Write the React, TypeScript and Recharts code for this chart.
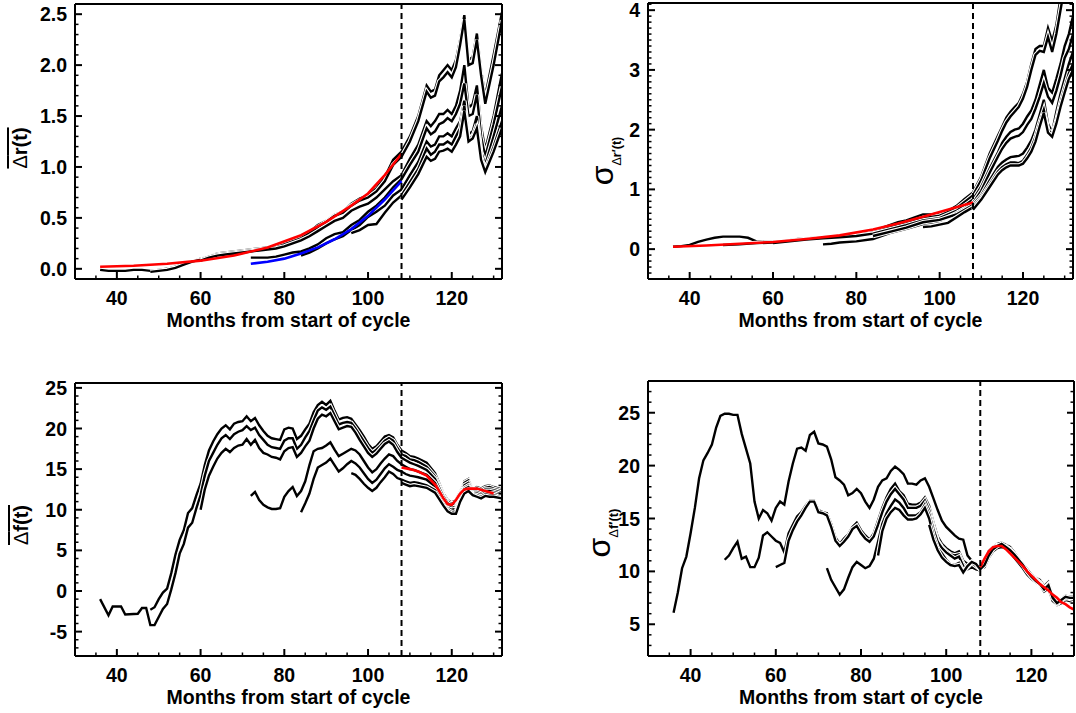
import React from 'react';
import { LineChart, Line, XAxis, YAxis, ReferenceLine } from 'recharts';

type Pt = [number, number];

const FONT = "'Liberation Sans', Arial, Helvetica, sans-serif";

// ---------- top left: mean of Δr(t), one curve per start month ----------
const tlS36: Pt[] = [[36,-0.01],[38,-0.02],[40,-0.02],[42,-0.02],[44,-0.01],[46,-0.01],[48,-0.02],[50,-0.01],[52,0.0],[54,0.02],[56,0.05],[58,0.07],[60,0.1],[62,0.12],[64,0.15],[66,0.16],[68,0.17],[70,0.18],[72,0.19],[74,0.2],[76,0.21],[78,0.22],[80,0.25],[82,0.28],[84,0.31],[86,0.36],[88,0.43],[90,0.47],[92,0.53],[94,0.56],[96,0.64],[98,0.69],[100,0.72],[102,0.79],[104,0.9],[106,1.07],[108,1.15],[110,1.3],[112,1.5],[114,1.8],[115,1.74],[116,1.76],[117,1.9],[118,1.95],[119,2.0],[120,1.95],[121,2.05],[122,2.25],[123,2.49],[124,2.05],[125,2.08],[126,2.31],[127,1.95],[128,1.7],[130,2.1],[132,2.52]];
const tlS48: Pt[] = [[48,-0.03],[50,-0.02],[52,-0.01],[54,0.01],[56,0.04],[58,0.07],[60,0.09],[62,0.12],[64,0.14],[66,0.15],[68,0.16],[70,0.17],[72,0.18],[74,0.19],[76,0.2],[78,0.21],[80,0.24],[82,0.27],[84,0.3],[86,0.35],[88,0.41],[90,0.46],[92,0.52],[94,0.55],[96,0.62],[98,0.67],[100,0.7],[102,0.76],[104,0.86],[106,1.02],[108,1.1],[110,1.25],[112,1.45],[114,1.74],[115,1.68],[116,1.7],[117,1.84],[118,1.88],[119,1.93],[120,1.88],[121,1.98],[122,2.2],[123,2.45],[124,2.0],[125,2.02],[126,2.25],[127,1.9],[128,1.62],[130,2.0],[132,2.44]];
const tlS60: Pt[] = [[60,0.08],[62,0.11],[64,0.13],[66,0.14],[68,0.15],[70,0.16],[72,0.17],[74,0.18],[76,0.19],[78,0.2],[80,0.22],[82,0.25],[84,0.28],[86,0.32],[88,0.37],[90,0.42],[92,0.47],[94,0.5],[96,0.57],[98,0.61],[100,0.64],[102,0.7],[104,0.78],[106,0.86],[108,0.92],[110,1.08],[112,1.22],[114,1.45],[115,1.4],[116,1.45],[117,1.52],[118,1.52],[119,1.56],[120,1.52],[121,1.6],[122,1.75],[123,2.0],[124,1.58],[125,1.62],[126,1.8],[127,1.4],[128,1.17],[130,1.5],[132,1.92]];
const tlS72: Pt[] = [[72,0.11],[74,0.11],[76,0.11],[78,0.12],[80,0.14],[82,0.16],[84,0.17],[86,0.2],[88,0.24],[90,0.3],[92,0.34],[94,0.36],[96,0.43],[98,0.48],[100,0.56],[102,0.62],[104,0.7],[106,0.8],[108,0.88],[110,1.02],[112,1.15],[114,1.38],[115,1.32],[116,1.35],[117,1.42],[118,1.44],[119,1.48],[120,1.45],[121,1.52],[122,1.62],[123,1.82],[124,1.5],[125,1.52],[126,1.71],[127,1.3],[128,1.1],[130,1.42],[132,1.79]];
const tlS84: Pt[] = [[84,0.13],[86,0.16],[88,0.2],[90,0.25],[92,0.29],[94,0.32],[96,0.38],[98,0.43],[100,0.51],[102,0.56],[104,0.62],[106,0.72],[108,0.78],[110,0.92],[112,1.05],[114,1.25],[115,1.2],[116,1.22],[117,1.3],[118,1.3],[119,1.33],[120,1.3],[121,1.38],[122,1.45],[123,1.65],[124,1.32],[125,1.35],[126,1.5],[127,1.15],[128,1.02],[130,1.3],[132,1.6]];
const tlS96: Pt[] = [[96,0.35],[98,0.38],[100,0.43],[102,0.44],[104,0.55],[106,0.65],[108,0.72],[110,0.85],[112,0.98],[114,1.18],[115,1.12],[116,1.15],[117,1.22],[118,1.22],[119,1.25],[120,1.22],[121,1.3],[122,1.38],[123,1.6],[124,1.27],[125,1.3],[126,1.42],[127,1.1],[128,0.97],[130,1.2],[132,1.45]];
const tlS108: Pt[] = [[108,0.68],[110,0.8],[112,0.93],[114,1.1],[115,1.06],[116,1.08],[117,1.15],[118,1.16],[119,1.18],[120,1.15],[121,1.22],[122,1.3],[123,1.55],[124,1.25],[125,1.28],[126,1.38],[127,1.07],[128,0.95],[130,1.15],[132,1.38]];
const tlRed: Pt[] = [[36,0.02],[44,0.03],[52,0.05],[60,0.08],[68,0.13],[76,0.21],[84,0.33],[90,0.46],[96,0.62],[100,0.74],[104,0.92],[108,1.13]];
const tlBlue: Pt[] = [[72,0.05],[76,0.07],[80,0.1],[84,0.15],[88,0.21],[92,0.29],[96,0.39],[100,0.52],[104,0.68],[108,0.86]];

// ---------- top right: sigma of Δr'(t) ----------
const trS36: Pt[] = [[36,0.04],[38,0.05],[40,0.07],[42,0.12],[44,0.16],[46,0.19],[48,0.21],[50,0.21],[52,0.21],[54,0.19],[56,0.13],[58,0.12],[60,0.12],[62,0.13],[64,0.15],[66,0.17],[68,0.18],[70,0.19],[72,0.2],[74,0.21],[76,0.22],[78,0.23],[80,0.25],[82,0.28],[84,0.31],[86,0.35],[88,0.4],[90,0.45],[92,0.48],[94,0.53],[96,0.58],[98,0.58],[100,0.6],[102,0.64],[104,0.72],[106,0.84],[108,0.95],[110,1.22],[112,1.6],[114,1.9],[115,2.05],[116,2.2],[117,2.3],[118,2.38],[119,2.45],[120,2.6],[121,2.8],[122,3.1],[123,3.35],[124,3.4],[125,3.4],[126,3.7],[127,3.48],[128,3.75],[129,4.2],[130,4.6]];
const trS48: Pt[] = [[48,0.07],[52,0.08],[56,0.1],[60,0.11],[64,0.14],[68,0.17],[72,0.19],[76,0.21],[80,0.23],[84,0.28],[88,0.36],[92,0.43],[96,0.52],[100,0.56],[104,0.68],[106,0.79],[108,0.9],[110,1.16],[112,1.52],[114,1.82],[115,1.98],[116,2.12],[117,2.22],[118,2.3],[119,2.38],[120,2.52],[121,2.72],[122,3.0],[123,3.25],[124,3.32],[125,3.3],[126,3.55],[127,3.3],[128,3.6],[129,4.0],[130,4.4]];
const trS60: Pt[] = [[60,0.1],[64,0.13],[68,0.16],[72,0.18],[76,0.2],[80,0.22],[84,0.26],[88,0.33],[92,0.4],[96,0.48],[100,0.52],[104,0.64],[106,0.73],[108,0.83],[110,1.05],[112,1.35],[114,1.62],[115,1.78],[116,1.88],[117,1.96],[118,2.0],[119,2.02],[120,2.1],[121,2.22],[122,2.32],[123,2.5],[124,2.75],[125,3.0],[126,2.7],[127,2.62],[128,2.85],[129,3.1],[130,3.4],[131,3.6],[132,3.9]];
const trS72: Pt[] = [[72,0.08],[74,0.09],[76,0.11],[80,0.13],[84,0.17],[88,0.27],[92,0.34],[96,0.42],[100,0.47],[104,0.6],[106,0.68],[108,0.77],[110,0.98],[112,1.28],[114,1.55],[115,1.68],[116,1.78],[117,1.85],[118,1.88],[119,1.9],[120,1.96],[121,2.08],[122,2.18],[123,2.35],[124,2.55],[125,2.78],[126,2.55],[127,2.45],[128,2.65],[129,2.9],[130,3.2],[131,3.35],[132,3.6]];
const trS84: Pt[] = [[84,0.22],[88,0.29],[92,0.36],[96,0.45],[100,0.49],[104,0.58],[106,0.66],[108,0.74],[110,0.9],[112,1.15],[114,1.38],[115,1.45],[116,1.5],[117,1.54],[118,1.55],[119,1.56],[120,1.6],[121,1.7],[122,1.82],[123,2.0],[124,2.25],[125,2.5],[126,2.1],[127,1.96],[128,2.3],[129,2.6],[130,2.85],[131,3.1],[132,3.3]];
const trS96: Pt[] = [[96,0.37],[98,0.38],[100,0.41],[102,0.44],[104,0.53],[106,0.62],[108,0.7],[110,0.86],[112,1.08],[114,1.3],[115,1.37],[116,1.42],[117,1.45],[118,1.45],[119,1.44],[120,1.48],[121,1.58],[122,1.7],[123,1.88],[124,2.12],[125,2.33],[126,2.0],[127,1.92],[128,2.15],[129,2.45],[130,2.7],[131,2.94],[132,3.1]];
const trS108: Pt[] = [[108,0.66],[110,0.83],[112,1.04],[114,1.25],[115,1.32],[116,1.37],[117,1.4],[118,1.4],[119,1.4],[120,1.43],[121,1.52],[122,1.63],[123,1.8],[124,2.05],[125,2.28],[126,1.95],[127,1.88],[128,2.1],[129,2.38],[130,2.62],[131,2.85],[132,3.0]];
const trRed: Pt[] = [[36,0.04],[44,0.06],[52,0.09],[60,0.12],[68,0.17],[76,0.23],[84,0.33],[90,0.43],[96,0.54],[100,0.62],[104,0.7],[108,0.78]];

// ---------- bottom left: mean of Δf(t) ----------
const blS48: Pt[] = [[48,-2.3],[49,-2.0],[50,-1.0],[51,-0.2],[52,0.3],[53,2.2],[54,4.5],[55,6.3],[56,7.5],[57,9.6],[58,10.2],[59,11.8],[60,13.2],[61,15.5],[62,17.3],[63,18.4],[64,19.3],[65,20.0],[66,20.4],[67,19.9],[68,20.6],[69,20.8],[70,20.9],[71,21.5],[72,20.9],[73,21.3],[74,20.4],[75,19.7],[76,19.1],[77,18.8],[78,18.7],[79,18.6],[80,19.9],[81,20.1],[82,20.0],[83,18.7],[84,19.1],[85,19.9],[86,20.6],[87,22.0],[88,22.9],[89,23.3],[90,22.9],[91,23.4],[92,22.2],[93,21.1],[94,21.3],[95,21.4],[96,21.2],[97,20.5],[98,19.8],[99,19.0],[100,18.1],[101,17.5],[102,17.8],[103,18.4],[104,19.0],[105,19.2],[106,18.9],[107,18.0],[108,17.3],[109,17.0],[110,16.6],[111,16.5],[112,16.3],[114,15.8],[116,14.5],[118,12.0],[119,11.2],[120,10.9],[121,11.2],[122,12.2],[123,13.5],[124,13.8],[125,12.5],[126,12.8],[127,12.6],[128,12.9],[129,13.0],[130,12.8],[132,12.5]];
const blS36: Pt[] = [[36,-1.0],[38,-3.0],[39,-1.9],[41,-1.9],[42,-2.9],[45,-2.8],[46,-2.1],[47,-2.1],[48,-4.2],[49,-4.2],[50,-3.2],[51,-2.2],[52,-1.6],[53,0.2],[54,2.2],[55,4.6],[56,5.8],[57,7.8],[58,8.4],[59,10.2],[60,11.8],[61,14.2],[62,16.0],[63,17.0],[64,18.0],[65,18.8],[66,19.2],[67,18.7],[68,19.3],[69,19.6],[70,19.8],[71,20.3],[72,19.8],[73,20.1],[74,19.2],[75,18.6],[76,18.0],[77,17.7],[78,17.6],[79,17.5],[80,18.5],[81,18.8],[82,18.8],[83,17.5],[84,18.0],[85,18.9],[86,19.7],[87,21.0],[88,22.2],[89,22.6],[90,22.3],[91,22.7],[92,21.6],[93,20.5],[94,20.7],[95,20.8],[96,20.7],[97,20.0],[98,19.2],[99,18.4],[100,17.6],[101,17.0],[102,17.4],[103,17.9],[104,18.5],[105,18.8],[106,18.5],[107,17.6],[108,16.8],[109,16.6],[110,16.2],[111,16.1],[112,15.9],[114,15.3],[116,14.1],[118,11.8],[119,11.0],[120,10.7],[121,11.0],[122,12.0],[123,13.3],[124,13.6],[125,12.4],[126,12.6],[127,12.4],[128,12.7],[129,12.8],[130,12.6],[132,12.3]];
const blS60: Pt[] = [[60,10.0],[61,12.5],[62,14.2],[63,15.3],[64,16.3],[65,17.0],[66,17.5],[67,17.1],[68,17.6],[69,17.9],[70,18.0],[71,18.7],[72,18.0],[73,18.6],[74,17.6],[75,17.0],[76,16.8],[77,16.5],[78,16.4],[79,16.2],[80,17.2],[81,17.6],[82,17.7],[83,16.5],[84,17.0],[85,17.8],[86,18.5],[87,20.0],[88,21.2],[89,21.7],[90,21.5],[91,21.9],[92,20.9],[93,19.9],[94,20.1],[95,20.3],[96,20.2],[97,19.5],[98,18.6],[99,17.8],[100,17.0],[101,16.5],[102,16.9],[103,17.5],[104,18.1],[105,18.4],[106,18.0],[107,17.1],[108,16.4],[109,16.1],[110,15.8],[111,15.6],[112,15.4],[114,14.9],[116,13.8],[118,11.6],[119,10.8],[120,10.5],[121,10.7],[122,11.8],[123,13.0],[124,13.3],[125,12.3],[126,12.4],[127,12.2],[128,12.5],[129,12.5],[130,12.4],[132,12.1]];
const blS72: Pt[] = [[72,11.7],[73,12.2],[74,11.2],[75,10.6],[76,10.3],[77,10.1],[78,10.1],[79,10.2],[80,11.6],[81,12.3],[82,12.8],[83,11.7],[84,12.3],[85,13.5],[86,15.5],[87,17.2],[88,17.5],[89,17.6],[90,17.9],[91,18.3],[92,17.4],[93,16.6],[94,16.9],[95,17.2],[96,17.5],[97,17.3],[98,16.8],[99,16.0],[100,15.2],[101,14.6],[102,15.0],[103,15.7],[104,16.3],[105,16.8],[106,16.6],[107,16.0],[108,15.6],[109,15.3],[110,15.0],[111,14.9],[112,14.7],[114,14.3],[116,13.3],[118,11.3],[119,10.5],[120,10.2],[121,10.4],[122,11.6],[123,12.7],[124,13.0],[125,12.2],[126,12.2],[127,12.0],[128,12.3],[129,12.3],[130,12.2],[132,11.9]];
const blS84: Pt[] = [[84,9.7],[85,10.8],[86,12.0],[87,13.8],[88,15.2],[89,15.5],[90,15.8],[91,16.3],[92,15.5],[93,14.7],[94,15.1],[95,15.6],[96,16.0],[97,15.7],[98,15.2],[99,14.5],[100,13.8],[101,13.3],[102,13.7],[103,14.4],[104,15.1],[105,15.6],[106,15.3],[107,14.9],[108,14.7],[109,14.4],[110,14.2],[111,14.1],[112,14.0],[114,13.7],[116,12.9],[118,11.0],[119,10.2],[120,10.0],[121,10.1],[122,11.4],[123,12.5],[124,12.8],[125,12.0],[126,12.0],[127,11.8],[128,12.1],[129,12.0],[130,12.0],[132,11.7]];
const blS96: Pt[] = [[96,14.5],[97,14.3],[98,13.8],[99,13.2],[100,12.7],[101,12.3],[102,12.7],[103,13.4],[104,14.0],[105,14.7],[106,14.4],[107,13.9],[108,13.7],[109,13.5],[110,13.3],[111,13.4],[112,13.3],[114,13.0],[116,12.4],[118,10.7],[119,10.0],[120,9.7],[121,9.8],[122,11.2],[123,12.3],[124,12.5],[125,11.9],[126,11.8],[127,11.6],[128,11.9],[129,11.8],[130,11.8],[132,11.5]];
const blS108: Pt[] = [[108,13.3],[109,13.1],[110,12.9],[111,13.0],[112,12.9],[114,12.7],[116,12.1],[118,10.5],[119,9.8],[120,9.5],[121,9.5],[122,11.0],[123,12.0],[124,12.3],[125,11.8],[126,11.6],[127,11.4],[128,11.7],[129,11.6],[130,11.6],[132,11.4]];
const blRed: Pt[] = [[108,15.2],[110,15.0],[112,14.7],[114,14.2],[116,13.1],[117,12.3],[118,11.4],[119,10.7],[120,10.6],[121,11.2],[122,12.0],[123,12.5],[124,12.6],[126,12.6],[128,12.3],[130,12.0]];

// ---------- bottom right: sigma of Δf'(t) ----------
const brS36: Pt[] = [[36,6.1],[37,8.0],[38,10.3],[39,11.4],[40,13.6],[41,16.0],[42,18.8],[43,20.5],[44,21.2],[45,22.0],[46,23.6],[47,24.7],[48,24.9],[49,24.9],[50,24.8],[51,24.8],[52,23.0],[53,21.6],[54,20.2],[55,16.6],[56,15.0],[57,15.8],[58,15.5],[59,14.8],[60,16.0],[61,16.6],[62,16.3],[63,18.5],[64,20.2],[65,21.6],[66,21.7],[67,21.4],[68,22.9],[69,23.2],[70,22.1],[71,22.0],[72,21.8],[73,20.6],[74,18.9],[75,18.6],[76,18.2],[77,17.2],[78,17.4],[79,17.8],[80,17.4],[81,16.6],[82,16.0],[83,16.8],[84,18.0],[85,18.6],[86,18.8],[87,19.5],[88,19.9],[89,19.6],[90,19.2],[91,18.3],[92,18.3],[93,18.2],[94,18.6],[95,18.8],[96,18.0],[97,16.9],[98,15.8],[99,14.8],[100,14.2],[101,13.8],[102,13.4],[103,13.1],[104,13.0],[105,11.5],[106,11.0],[107,10.7],[108,10.3],[109,11.0],[110,11.9],[111,12.3],[112,12.6],[113,12.7],[114,12.5],[115,12.3],[116,11.8],[117,11.2],[118,10.7],[119,10.2],[120,9.7],[121,9.4],[122,9.2],[123,8.6],[124,9.0],[125,7.7],[126,7.1],[127,7.4],[128,7.7],[129,7.6],[130,7.6]];
const brS48: Pt[] = [[48,11.1],[49,11.5],[50,12.2],[51,12.8],[52,11.2],[53,11.4],[54,10.4],[55,10.4],[56,11.3],[57,13.4],[58,13.7],[59,13.3],[60,12.9],[61,12.7],[62,11.8],[63,13.6],[64,14.4],[65,15.2],[66,15.6],[67,16.2],[68,16.7],[69,16.7],[70,15.8],[71,15.6],[72,15.5],[73,14.5],[74,13.2],[75,12.6],[76,13.1],[77,13.5],[78,14.2],[79,14.6],[80,13.9],[81,13.4],[82,13.0],[83,13.6],[84,14.8],[85,16.0],[86,17.0],[87,17.8],[88,18.3],[89,17.6],[90,17.2],[91,16.4],[92,16.3],[93,16.3],[94,16.5],[95,17.0],[96,16.2],[97,14.6],[98,13.3],[99,12.6],[100,12.2],[101,11.9],[102,11.7],[103,11.9],[104,11.0],[105,10.7],[106,10.9],[107,10.5],[108,10.3],[109,10.8],[110,11.7],[111,12.1],[112,12.4],[113,12.5],[114,12.3],[115,12.1],[116,11.6],[117,11.0],[118,10.5],[119,10.0],[120,9.5],[121,9.2],[122,9.0],[123,8.4],[124,8.8],[125,7.5],[126,6.9],[127,7.2],[128,7.5],[129,7.4],[130,7.4]];
const brS60: Pt[] = [[60,10.4],[61,10.6],[62,10.8],[63,12.9],[64,13.9],[65,14.7],[66,15.3],[67,16.0],[68,16.6],[69,16.6],[70,15.6],[71,15.5],[72,15.3],[73,14.2],[74,12.9],[75,12.4],[76,12.8],[77,13.3],[78,14.0],[79,14.3],[80,13.6],[81,13.1],[82,12.8],[83,13.3],[84,14.4],[85,15.6],[86,16.6],[87,17.3],[88,17.8],[89,17.3],[90,16.8],[91,16.0],[92,16.0],[93,16.0],[94,16.2],[95,16.7],[96,15.8],[97,14.2],[98,12.9],[99,12.3],[100,11.9],[101,11.6],[102,11.5],[103,11.6],[104,10.7],[105,10.3],[106,10.6],[107,10.4],[108,10.2],[109,10.7],[110,11.6],[111,12.2],[112,12.5],[113,12.4],[114,12.4],[115,12.0],[116,11.5],[117,10.9],[118,10.4],[119,9.9],[120,9.6],[121,9.3],[122,8.9],[123,8.3],[124,8.6],[125,7.4],[126,7.0],[127,7.1],[128,7.4],[129,7.3],[130,7.3]];
const brS72: Pt[] = [[72,10.3],[73,9.2],[74,8.5],[75,7.8],[76,8.3],[77,9.4],[78,10.4],[79,10.9],[80,10.6],[81,10.3],[82,10.5],[83,11.2],[84,12.8],[85,14.5],[86,15.5],[87,16.2],[88,16.8],[89,16.5],[90,16.0],[91,15.3],[92,15.3],[93,15.3],[94,15.6],[95,16.3],[96,15.4],[97,14.0],[98,12.8],[99,12.2],[100,11.8],[101,11.5],[102,11.2],[103,11.4],[104,10.5],[105,10.2],[106,10.4],[107,10.2],[108,10.1],[109,10.5],[110,11.4],[111,12.0],[112,12.3],[113,12.4],[114,12.2],[115,11.9],[116,11.5],[117,11.0],[118,10.4],[119,9.8],[120,9.4],[121,9.2],[122,8.8],[123,8.2],[124,8.5],[125,7.3],[126,6.8],[127,7.0],[128,7.3],[129,7.2],[130,7.2]];
const brS84: Pt[] = [[84,11.5],[85,13.8],[86,15.0],[87,15.6],[88,16.0],[89,15.8],[90,15.3],[91,14.9],[92,14.9],[93,15.0],[94,15.4],[95,16.0],[96,15.0],[97,13.4],[98,12.2],[99,11.7],[100,11.1],[101,10.7],[102,10.6],[103,10.8],[104,10.0],[105,10.4],[106,10.8],[107,10.5],[108,10.2],[109,10.4],[110,11.3],[111,11.9],[112,12.2],[113,12.3],[114,12.2],[115,11.8],[116,11.3],[117,10.8],[118,10.3],[119,9.7],[120,9.3],[121,9.0],[122,8.7],[123,8.1],[124,8.4],[125,7.2],[126,6.9],[127,7.2],[128,7.5],[129,7.4],[130,7.3]];
const brS96: Pt[] = [[96,14.4],[97,13.0],[98,12.0],[99,11.3],[100,10.9],[101,10.6],[102,10.5],[103,10.6],[104,9.9],[105,10.5],[106,10.9],[107,10.7],[108,10.2],[109,10.6],[110,11.5],[111,12.1],[112,12.4],[113,12.6],[114,12.3],[115,12.0],[116,11.6],[117,11.1],[118,10.6],[119,10.0],[120,9.5],[121,9.1],[122,8.8],[123,8.3],[124,8.7],[125,7.5],[126,7.0],[127,7.3],[128,7.6],[129,7.5],[130,7.5]];
const brRed: Pt[] = [[108,10.4],[109,11.2],[110,11.9],[111,12.3],[112,12.4],[113,12.4],[114,12.1],[115,11.7],[116,11.3],[117,10.9],[118,10.5],[119,10.0],[120,9.6],[121,9.2],[122,8.8],[123,8.5],[124,8.2],[125,7.8],[126,7.5],[127,7.1],[128,6.9],[129,6.6],[130,6.4]];

// tick labels
const monthMajors = [40, 60, 80, 100, 120];
const tlYMajors = [0, 0.5, 1, 1.5, 2, 2.5];
const trYMajors = [0, 1, 2, 3, 4];
const blYMajors = [-5, 0, 5, 10, 15, 20, 25];
const brYMajors = [5, 10, 15, 20, 25];
const cycleMark = 108;

const steps = (lo: number, hi: number, step: number) => {
  const out: number[] = [];
  const n = Math.round((hi - lo) / step);
  for (let i = 0; i <= n; i++) out.push(Math.round((lo + i * step) * 1000) / 1000);
  return out;
};

const toRows = (pts: Pt[]) => pts.map(([m, v]) => ({ m, v }));

type Side = 'bottom' | 'top' | 'left' | 'right';

const renderTick = (side: Side, majors: number[], fmt?: (v: number) => string) => (props: any) => {
  const { x, y, payload } = props;
  const v = payload.value as number;
  const major = majors.some((t) => Math.abs(t - v) < 1e-6);
  const len = major ? 7 : 3.5;
  const sw = major ? 2 : 1.5;
  let line: any = null;
  if (side === 'bottom') line = <line x1={x} x2={x} y1={y} y2={y - len} stroke="#000" strokeWidth={sw} />;
  if (side === 'top') line = <line x1={x} x2={x} y1={y} y2={y + len} stroke="#000" strokeWidth={sw} />;
  if (side === 'left') line = <line x1={x} x2={x + len} y1={y} y2={y} stroke="#000" strokeWidth={sw} />;
  if (side === 'right') line = <line x1={x} x2={x - len} y1={y} y2={y} stroke="#000" strokeWidth={sw} />;
  let label: any = null;
  if (major && fmt && side === 'bottom') {
    label = (
      <text x={x} y={y + 26} textAnchor="middle" fontSize={19.5} fontWeight="bold" fontFamily={FONT} fill="#000">
        {fmt(v)}
      </text>
    );
  }
  if (major && fmt && side === 'left') {
    label = (
      <text x={x - 8} y={y + 7} textAnchor="end" fontSize={19.5} fontWeight="bold" fontFamily={FONT} fill="#000">
        {fmt(v)}
      </text>
    );
  }
  return (
    <g>
      {line}
      {label}
    </g>
  );
};

const AXIS = { stroke: '#000', strokeWidth: 2 };

interface PanelProps {
  // plot box edges inside the panel
  box: { top: number; left: number; right: number; bottom: number };
  xDomain: [number, number];
  yDomain: [number, number];
  yTicks: number[];
  yMajors: number[];
  yFmt: (v: number) => string;
  blacks: Pt[][];
  colored: { pts: Pt[]; color: string }[];
}

const W = 538;
const H = 357;

const Panel: React.FC<PanelProps> = ({ box, xDomain, yDomain, yTicks, yMajors, yFmt, blacks, colored }) => {
  const xTicks = steps(30, xDomain[1] >= 130 ? 130 : xDomain[1], 5);
  // every axis takes 1px, so the margins are one less than the box edges
  const margin = { top: box.top - 1, left: box.left - 1, right: W - box.right - 1, bottom: H - box.bottom - 1 };
  return (
    <LineChart width={W} height={H} margin={margin}>
      <XAxis
        xAxisId="b"
        type="number"
        dataKey="m"
        domain={xDomain}
        allowDataOverflow
        ticks={xTicks}
        interval={0}
        height={1}
        tickSize={0}
        tickMargin={0}
        tickLine={false}
        axisLine={AXIS}
        tick={renderTick('bottom', monthMajors, (v) => String(v))}
      />
      <XAxis
        xAxisId="t"
        orientation="top"
        type="number"
        domain={xDomain}
        allowDataOverflow
        ticks={xTicks}
        interval={0}
        height={1}
        tickSize={0}
        tickMargin={0}
        tickLine={false}
        axisLine={AXIS}
        tick={renderTick('top', monthMajors)}
      />
      <YAxis
        yAxisId="l"
        type="number"
        domain={yDomain}
        allowDataOverflow
        ticks={yTicks}
        interval={0}
        width={1}
        tickSize={0}
        tickMargin={0}
        tickLine={false}
        axisLine={AXIS}
        tick={renderTick('left', yMajors, yFmt)}
      />
      <YAxis
        yAxisId="r"
        orientation="right"
        type="number"
        domain={yDomain}
        allowDataOverflow
        ticks={yTicks}
        interval={0}
        width={1}
        tickSize={0}
        tickMargin={0}
        tickLine={false}
        axisLine={AXIS}
        tick={renderTick('right', yMajors)}
      />
      {blacks.flatMap((pts, i) => [
        <Line key={`w${i}`} xAxisId="b" yAxisId="l" data={toRows(pts)} dataKey="v" type="linear"
          stroke="#fff" strokeWidth={4.6} dot={false} activeDot={false} isAnimationActive={false} />,
        <Line key={`k${i}`} xAxisId="b" yAxisId="l" data={toRows(pts)} dataKey="v" type="linear"
          stroke="#000" strokeWidth={2.4} dot={false} activeDot={false} isAnimationActive={false} />,
      ])}
      {colored.map((c, i) => (
        <Line key={`c${i}`} xAxisId="b" yAxisId="l" data={toRows(c.pts)} dataKey="v" type="linear"
          stroke={c.color} strokeWidth={2.6} dot={false} activeDot={false} isAnimationActive={false} />
      ))}
      <ReferenceLine xAxisId="b" yAxisId="l" x={cycleMark} stroke="#000" strokeWidth={2} strokeDasharray="6 4" />
    </LineChart>
  );
};

const xLabelStyle = (cx: number, baseline: number): React.CSSProperties => ({
  position: 'absolute',
  left: cx,
  top: baseline - 16.5,
  transform: 'translateX(-50%)',
  fontFamily: FONT,
  fontSize: 19.5,
  fontWeight: 700,
  lineHeight: 1,
  whiteSpace: 'nowrap',
  color: '#000',
});

const barLabelStyle = (cx: number, cy: number): React.CSSProperties => ({
  position: 'absolute',
  left: cx,
  top: cy,
  transform: 'translate(-50%, -50%) rotate(-90deg)',
  fontFamily: FONT,
  fontSize: 20,
  fontWeight: 700,
  lineHeight: 1,
  whiteSpace: 'nowrap',
  textDecoration: 'overline',
  textDecorationThickness: '2px',
  color: '#000',
});

const sigmaLabelStyle = (cx: number, cy: number): React.CSSProperties => ({
  position: 'absolute',
  left: cx,
  top: cy,
  transform: 'translate(-50%, -50%) rotate(-90deg)',
  fontFamily: FONT,
  fontSize: 32,
  fontWeight: 400,
  lineHeight: 1,
  whiteSpace: 'nowrap',
  color: '#000',
});

const subStyle = (size: number): React.CSSProperties => ({
  fontSize: size,
  fontWeight: 700,
  position: 'relative',
  top: 8,
});

const XLABEL = 'Months from start of cycle';

export default function App() {
  return (
    <div style={{ position: 'absolute', left: 0, top: 0, width: 1076, height: 713, background: '#fff', overflow: 'hidden' }}>
      {/* top left */}
      <div style={{ position: 'absolute', left: 0, top: 0, width: W, height: H }}>
        <Panel
          box={{ top: 4, left: 75, right: 502, bottom: 279 }}
          xDomain={[30, 132]}
          yDomain={[-0.1, 2.6]}
          yTicks={steps(-0.1, 2.6, 0.1)}
          yMajors={tlYMajors}
          yFmt={(v) => v.toFixed(1)}
          blacks={[tlS36, tlS48, tlS60, tlS72, tlS84, tlS96, tlS108]}
          colored={[{ pts: tlRed, color: '#ff0000' }, { pts: tlBlue, color: '#0000ff' }]}
        />
        <div style={xLabelStyle(288.5, 327)}>{XLABEL}</div>
        <div style={barLabelStyle(19.5, 147.5)}>
          <span style={{ fontWeight: 400 }}>Δ</span>r(t)
        </div>
      </div>

      {/* top right */}
      <div style={{ position: 'absolute', left: 538, top: 0, width: W, height: H }}>
        <Panel
          box={{ top: 3, left: 110, right: 535, bottom: 279 }}
          xDomain={[30, 132]}
          yDomain={[-0.5, 4.12]}
          yTicks={steps(-0.5, 4.1, 0.1)}
          yMajors={trYMajors}
          yFmt={(v) => String(v)}
          blacks={[trS36, trS48, trS60, trS72, trS84, trS96, trS108]}
          colored={[{ pts: trRed, color: '#ff0000' }]}
        />
        <div style={xLabelStyle(322.5, 327)}>{XLABEL}</div>
        <div style={sigmaLabelStyle(64, 160.5)}>
          σ<span style={subStyle(12.5)}><span style={{ fontWeight: 400 }}>Δ</span>r′(t)</span>
        </div>
      </div>

      {/* bottom left */}
      <div style={{ position: 'absolute', left: 0, top: 356, width: W, height: H }}>
        <Panel
          box={{ top: 27, left: 75, right: 502, bottom: 300 }}
          xDomain={[30, 132]}
          yDomain={[-8, 25.6]}
          yTicks={steps(-8, 25, 1)}
          yMajors={blYMajors}
          yFmt={(v) => String(v)}
          blacks={[blS48, blS36, blS60, blS72, blS84, blS96, blS108]}
          colored={[{ pts: blRed, color: '#ff0000' }]}
        />
        <div style={xLabelStyle(288.5, 348)}>{XLABEL}</div>
        <div style={barLabelStyle(21, 169)}>
          <span style={{ fontWeight: 400 }}>Δ</span>f(t)
        </div>
      </div>

      {/* bottom right */}
      <div style={{ position: 'absolute', left: 538, top: 356, width: W, height: H }}>
        <Panel
          box={{ top: 25, left: 110, right: 536, bottom: 300 }}
          xDomain={[30, 130]}
          yDomain={[2, 28]}
          yTicks={steps(2, 28, 1)}
          yMajors={brYMajors}
          yFmt={(v) => String(v)}
          blacks={[brS36, brS48, brS60, brS72, brS84, brS96]}
          colored={[{ pts: brRed, color: '#ff0000' }]}
        />
        <div style={xLabelStyle(323, 348)}>{XLABEL}</div>
        <div style={sigmaLabelStyle(61, 176.5)}>
          σ<span style={subStyle(13)}><span style={{ fontWeight: 400 }}>Δ</span>f′(t)</span>
        </div>
      </div>
    </div>
  );
}
